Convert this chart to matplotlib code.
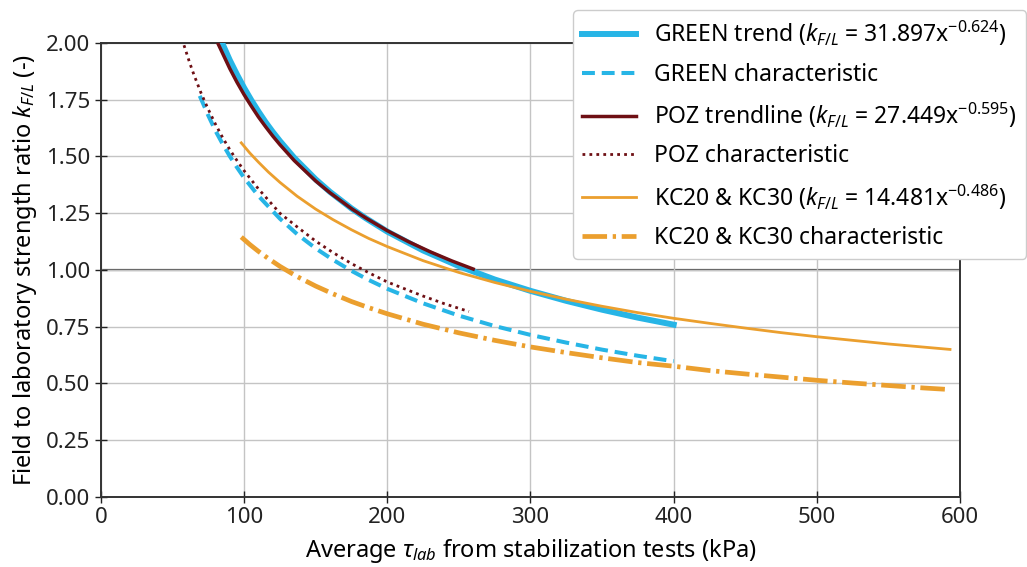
import numpy as np
import matplotlib
matplotlib.use('Agg')
from matplotlib import pyplot as plt

plt.rcParams['font.family'] = ['Noto Sans', 'DejaVu Sans']
plt.rcParams['mathtext.fontset'] = 'custom'
plt.rcParams['mathtext.rm'] = 'Noto Sans'
plt.rcParams['mathtext.it'] = 'Noto Sans:italic'

# GREEN trend (k = 31.897 x^-0.624)
green_x = [84, 90, 95, 100, 105, 110, 115, 120, 125, 135, 150, 160, 175, 185, 200,
           225, 250, 275, 300, 325, 350, 375, 400]
green_y = [2.009, 1.924, 1.861, 1.802, 1.748, 1.698, 1.651, 1.608, 1.568, 1.494, 1.399,
           1.344, 1.271, 1.228, 1.169, 1.086, 1.017, 0.958, 0.908, 0.864, 0.825, 0.790, 0.759]
# GREEN characteristic
green_char_x = [69, 75, 80, 85, 90, 95, 100, 110, 125, 137, 150, 162, 175, 187, 200,
                225, 250, 275, 300, 325, 350, 375, 400]
green_char_y = [1.767, 1.680, 1.613, 1.555, 1.501, 1.452, 1.406, 1.326, 1.226, 1.158, 1.095,
                1.045, 0.996, 0.956, 0.917, 0.853, 0.799, 0.753, 0.714, 0.680, 0.649, 0.622, 0.598]

# POZ trendline (k = 27.449 x^-0.595)
poz_x = [82, 90, 95, 100, 105, 110, 115, 120, 125, 135, 150, 160, 175, 185, 200,
         215, 230, 245, 260]
poz_y = [1.994, 1.887, 1.827, 1.772, 1.722, 1.674, 1.631, 1.590, 1.552, 1.482, 1.392,
         1.340, 1.270, 1.229, 1.173, 1.124, 1.080, 1.040, 1.004]
# POZ characteristic
poz_char_x = [58, 62, 65, 70, 75, 80, 85, 90, 95, 100, 110, 125, 137, 150, 162, 175,
              187, 200, 225, 240, 257]
poz_char_y = [1.990, 1.912, 1.859, 1.778, 1.707, 1.642, 1.583, 1.530, 1.482, 1.437, 1.357,
              1.250, 1.190, 1.127, 1.077, 1.028, 0.988, 0.947, 0.885, 0.851, 0.817]

# KC20 & KC30 (k = 14.481 x^-0.486)
kc_x = [98, 104, 110, 117, 125, 137, 150, 162, 175, 187, 200, 225, 250, 275, 300, 325,
        350, 375, 400, 425, 450, 475, 500, 525, 550, 575, 593]
kc_y = [1.560, 1.515, 1.475, 1.431, 1.386, 1.325, 1.268, 1.222, 1.177, 1.139, 1.103,
        1.041, 0.989, 0.945, 0.906, 0.871, 0.840, 0.812, 0.787, 0.765, 0.744, 0.724,
        0.706, 0.690, 0.674, 0.660, 0.650]
# KC20 & KC30 characteristic
kc_char_x = [98, 104, 110, 117, 125, 137, 150, 162, 175, 187, 200, 225, 250, 275, 300,
             325, 350, 375, 400, 425, 450, 475, 500, 525, 550, 575, 591]
kc_char_y = [1.145, 1.112, 1.082, 1.050, 1.016, 0.971, 0.929, 0.895, 0.861, 0.834, 0.807,
             0.761, 0.723, 0.690, 0.661, 0.636, 0.613, 0.592, 0.576, 0.557, 0.542, 0.528,
             0.514, 0.502, 0.491, 0.480, 0.474]

blue = '#27b5e6'
darkred = '#6e0f14'
orange = '#eb9f2e'

fig = plt.figure(figsize=(10.27, 5.67), dpi=100)
ax = fig.add_axes([0.0983, 0.1235, 0.8365, 0.8007])

ax.grid(True, color='#c4c4c4', linewidth=1.0, zorder=0)
ax.axhline(1.0, color='#555555', linewidth=1.6, zorder=1)

ax.plot(green_x, green_y, color=blue, linewidth=4.3, solid_joinstyle='round',
        label=r'GREEN trend ($k_{F/L}$ = 31.897x$^{-0.624}$)', zorder=3)
ax.plot(green_char_x, green_char_y, color=blue, linewidth=2.9, linestyle=(0, (3.2, 1.7)),
        label='GREEN characteristic', zorder=3)
ax.plot(poz_x, poz_y, color=darkred, linewidth=2.5, solid_joinstyle='round',
        label=r'POZ trendline ($k_{F/L}$ = 27.449x$^{-0.595}$)', zorder=4)
ax.plot(poz_char_x, poz_char_y, color=darkred, linewidth=2.0, linestyle=(0, (1, 1.5)),
        label='POZ characteristic', zorder=4)
ax.plot(kc_x, kc_y, color=orange, linewidth=2.0, solid_joinstyle='round',
        label=r'KC20 & KC30 ($k_{F/L}$ = 14.481x$^{-0.486}$)', zorder=5)
ax.plot(kc_char_x, kc_char_y, color=orange, linewidth=3.4, linestyle=(0, (5.2, 1.2, 0.7, 1.2)),
        label='KC20 & KC30 characteristic', zorder=5)

ax.set_xlim(0, 600)
ax.set_ylim(0, 2.0)
ax.set_xticks(np.arange(0, 601, 100))
ax.set_yticks(np.arange(0, 2.01, 0.25))
ax.set_yticklabels(['%.2f' % v for v in np.arange(0, 2.01, 0.25)])
ax.tick_params(direction='inout', length=9, width=1, labelsize=16, colors='#222222', pad=3)
for s in ax.spines.values():
    s.set_color('#333333')
    s.set_linewidth(1.4)

ax.set_xlabel(r'Average $\tau_{lab}$ from stabilization tests (kPa)', fontsize=17, labelpad=6)
ax.set_ylabel(r'Field to laboratory strength ratio $k_{F/L}$ (-)', fontsize=17, labelpad=5)

leg = fig.legend(loc='upper left', bbox_to_anchor=(573 / 1027, 1 - 10 / 567),
                 borderaxespad=0, fontsize=16.5, handlelength=2.35, labelspacing=0.62,
                 borderpad=0.4, handletextpad=0.8, frameon=True, fancybox=True,
                 framealpha=1.0, edgecolor='#cccccc')
leg.set_zorder(10)

plt.savefig('out.png', dpi=100)
